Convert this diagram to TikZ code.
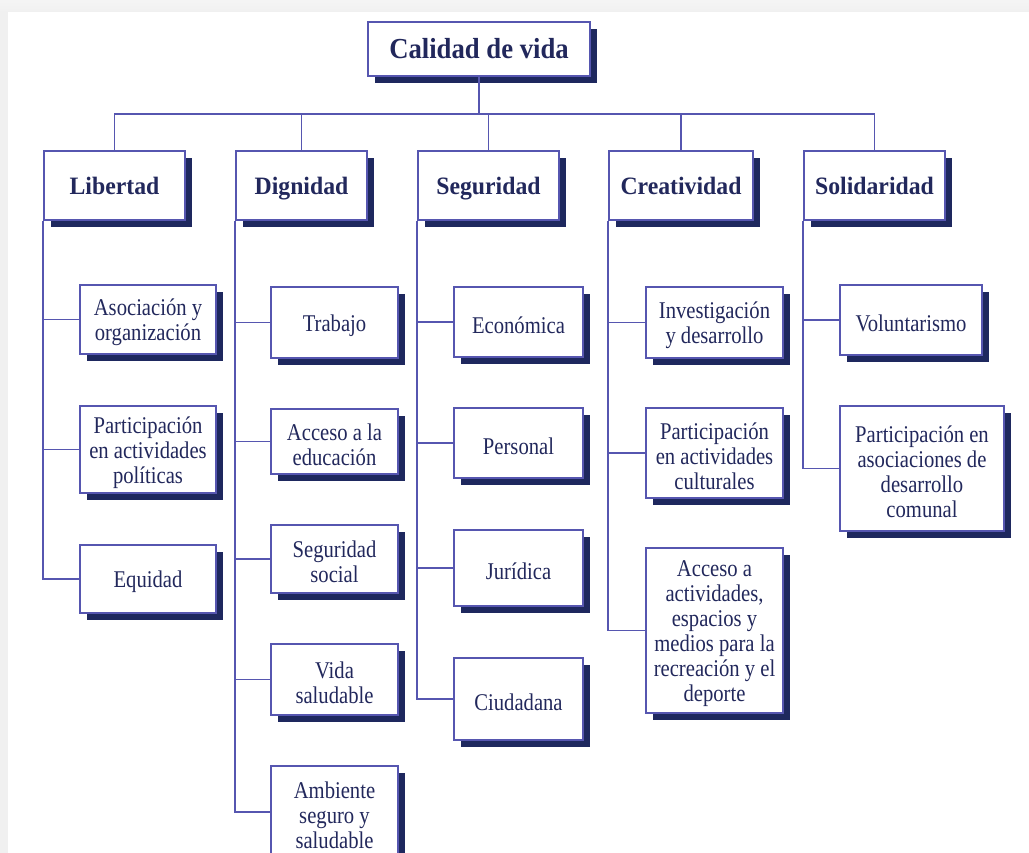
\documentclass[tikz,border=0pt]{standalone}
\usepackage{fontspec}
\setmainfont{Liberation Serif}
\newfontfamily\ftitle[FakeStretch=0.92]{Liberation Serif}
\newfontfamily\fmid[FakeStretch=0.95]{Liberation Serif}
\newfontfamily\fsmall[FakeStretch=0.86]{Liberation Serif}
\usetikzlibrary{shadows}
\definecolor{edge}{RGB}{86,86,176}
\definecolor{ink}{RGB}{34,40,92}
\definecolor{shade}{RGB}{30,40,94}
\definecolor{bggray}{RGB}{240,240,240}
\tikzset{
 box/.style={draw=edge, line width=1.8pt, fill=white, inner sep=0pt, align=center, text=ink,
   drop shadow={shadow xshift=7pt, shadow yshift=-7pt, fill=shade, opacity=1}},
 titlebox/.style={box, font=\ftitle\bfseries\fontsize{29}{31}\selectfont, text height=22pt, text depth=3.5pt},
 catbox/.style={box, font=\fmid\bfseries\fontsize{25}{27}\selectfont, text height=21pt, text depth=2pt},
 itembox/.style={box},
 itemtext/.style={inner sep=0pt, align=center, text=ink, font=\fsmall\fontsize{24}{25}\selectfont},
 link/.style={draw=edge, line width=1.7pt},
}
\newcommand\bx[7]{\node[#6, minimum width={(#4-#2)*1pt}, minimum height={(#5-#3)*1pt}] (#1) at ({(#2+#4)/2},{(#3+#5)/2}) {#7};}
\newcommand\ibx[6]{\node[itembox, minimum width={(#4-#2)*1pt}, minimum height={(#5-#3)*1pt}] (#1) at ({(#2+#4)/2},{(#3+#5)/2}) {};
  \node[itemtext] (#1t) at ([yshift=-3pt]#1.center) {#6};}
\begin{document}
\begin{tikzpicture}[x=1pt,y=-1pt]
\useasboundingbox (0,0) rectangle (1029,853);
\fill[bggray] (0,0) rectangle (1029,853);
\shade[top color=bggray!70, bottom color=bggray] (0,0) rectangle (1029,12);
\fill[white] (8,12) rectangle (1029,853);
\clip (0,0) rectangle (1029,853);
% title and categories
\bx{top}{368}{22}{590}{76}{titlebox}{Calidad de vida}
\bx{lib}{44}{151}{185}{220}{catbox}{Libertad}
\bx{dig}{236}{151}{367}{220}{catbox}{Dignidad}
\bx{seg}{418}{151}{559}{220}{catbox}{Seguridad}
\bx{cre}{609}{151}{753}{220}{catbox}{Creatividad}
\bx{sol}{804}{151}{945}{220}{catbox}{Solidaridad}
% Libertad
\ibx{l1}{80}{285}{216}{354}{Asociación y\\organización}
\ibx{l2}{80}{406}{216}{493}{Participación\\en actividades\\políticas}
\ibx{l3}{80}{545}{216}{613}{Equidad}
% Dignidad
\ibx{d1}{271}{287}{398}{358}{Trabajo}
\ibx{d2}{271}{409}{398}{474}{Acceso a la\\educación}
\ibx{d3}{271}{525}{398}{593}{Seguridad\\social}
\ibx{d4}{271}{644}{398}{715}{Vida\\saludable}
\ibx{d5}{271}{766}{398}{858}{Ambiente\\seguro y\\saludable}
% Seguridad
\ibx{s1}{454}{287}{583}{357}{Económica}
\ibx{s2}{454}{408}{583}{478}{Personal}
\ibx{s3}{454}{530}{583}{606}{Jurídica}
\ibx{s4}{454}{658}{583}{740}{Ciudadana}
% Creatividad
\ibx{c1}{646}{287}{783}{358}{Investigación\\y desarrollo}
\ibx{c2}{646}{408}{783}{498}{Participación\\en actividades\\culturales}
\ibx{c3}{646}{548}{783}{713}{Acceso a\\actividades,\\espacios y\\medios para la\\recreación y el\\deporte}
% Solidaridad
\ibx{o1}{840}{285}{982}{355}{Voluntarismo}
\ibx{o2}{840}{406}{1004}{531}{Participación en\\asociaciones de\\desarrollo\\comunal}
% connectors
\coordinate (bus) at (479,114);
\draw[link] (top.south) -- (bus);
\draw[link] (lib.north) -- (lib.north |- bus) -- (sol.north |- bus) -- (sol.north);
\draw[link] (dig.north) -- (dig.north |- bus);
\draw[link] (seg.north) -- (seg.north |- bus);
\draw[link] (cre.north) -- (cre.north |- bus);
\foreach \p/\c in {lib/l1,lib/l2,lib/l3,dig/d1,dig/d2,dig/d3,dig/d4,dig/d5,seg/s1,seg/s2,seg/s3,seg/s4,cre/c1,cre/c2,cre/c3,sol/o1,sol/o2}
  \draw[link] (\p.south west) |- (\c.west);
\end{tikzpicture}
\end{document}
